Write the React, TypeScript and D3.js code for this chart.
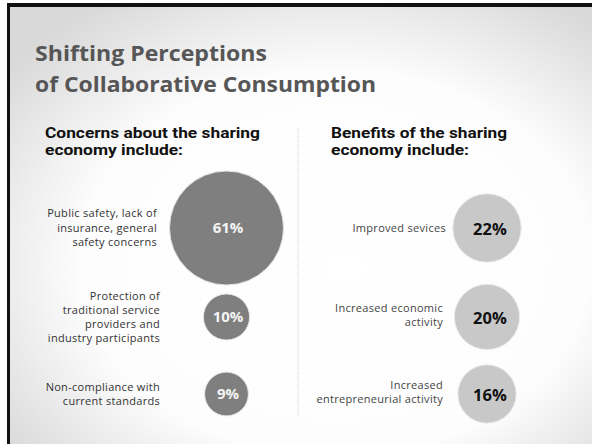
import React from "react";
import * as d3 from "d3";

const titleLines = ["Shifting Perceptions", "of Collaborative Consumption"];
const titleWidths = [232, 341];
const concernHeading = ["Concerns about the sharing", "economy include:"];
const concernHeadingWidths = [215, 138];
const benefitHeading = ["Benefits of the sharing", "economy include:"];
const benefitHeadingWidths = [176, 138];

const concernLabels = [
  ["Public safety, lack of", "insurance, general", "safety concerns"],
  ["Protection of", "traditional service", "providers and", "industry participants"],
  ["Non-compliance with", "current standards"],
];
const concernValues = [61, 10, 9];

const benefitLabels = [
  ["Improved sevices"],
  ["Increased economic", "activity"],
  ["Increased", "entrepreneurial activity"],
];
const benefitValues = [22, 20, 16];

const W = 592;
const H = 444;
const FONT = "'Open Sans', Roboto, sans-serif";
const HFONT = "Roboto, 'Open Sans', sans-serif";

export default function App() {
  const rows = [0, 1, 2];
  const yRow = d3.scaleOrdinal<number, number>().domain(rows).range([228, 317, 394]);
  const r = d3.scaleSqrt().domain([0, 61]).range([0, 57]);
  const colX = d3.scaleOrdinal<string, number>().domain(["concern", "benefit"]).range([226.5, 487]);

  const labelBlock = (lines: string[], xRight: number, cy: number, lh: number, color: string) => {
    const n = lines.length;
    const y0 = cy - ((n - 1) * lh) / 2;
    return lines.map((t, i) => (
      <text
        key={i}
        x={xRight}
        y={y0 + i * lh}
        dy="0.35em"
        textAnchor="end"
        fontSize={11}
        letterSpacing={0.3}
        fill={color}
        fontFamily={FONT}
      >
        {t}
      </text>
    ));
  };

  const heading = (lines: string[], widths: number[], x: number) =>
    lines.map((t, i) => (
      <text
        key={i}
        x={x}
        y={138 + i * 17.2}
        fontSize={14.5}
        fontWeight={700}
        fill="#111"
        fontFamily={HFONT}
        textLength={widths[i]}
        lengthAdjust="spacingAndGlyphs"
      >
        {t}
      </text>
    ));

  return (
    <div style={{ position: "fixed", left: 0, top: 0, width: W, height: H }}>
      <svg width={W} height={H} style={{ display: "block" }}>
        <defs>
          <radialGradient id="bg" cx="0.55" cy="0.58" r="0.7" fx="0.58" fy="0.6">
            <stop offset="0" stopColor="#ffffff" />
            <stop offset="0.62" stopColor="#fdfdfd" />
            <stop offset="1" stopColor="#d9d9d9" />
          </radialGradient>
        </defs>
        <rect x={0} y={0} width={W} height={H} fill="#ffffff" />
        <rect x={8} y={5} width={W - 8} height={H - 5} fill="url(#bg)" />
        {/* frame */}
        <rect x={7} y={3} width={W - 7} height={4} fill="#111" />
        <rect x={7} y={3} width={3} height={H - 3} fill="#111" />

        {/* title */}
        {titleLines.map((t, i) => (
          <text
            key={i}
            x={35}
            y={61 + i * 31}
            fontSize={22}
            fontWeight={700}
            fill="#565656"
            fontFamily={FONT}
            textLength={titleWidths[i]}
            lengthAdjust="spacingAndGlyphs"
          >
            {t}
          </text>
        ))}

        {/* headings */}
        {heading(concernHeading, concernHeadingWidths, 45)}
        {heading(benefitHeading, benefitHeadingWidths, 331)}

        {/* divider */}
        <line x1={298} x2={298} y1={128} y2={416} stroke="#cfcfcf" strokeWidth={1} strokeDasharray="1 1" />

        {/* concerns */}
        {concernValues.map((v, i) => (
          <g key={"c" + i}>
            {labelBlock(concernLabels[i], i === 0 ? 157 : 160, yRow(i), i === 0 ? 14.5 : 13.8, "#333")}
            <circle cx={colX("concern")} cy={yRow(i)} r={r(v)} fill="#7f7f7f" stroke="#e6e6e6" strokeWidth={1} />
            <text
              x={colX("concern") + 1.5}
              y={yRow(i)}
              dy="0.36em"
              textAnchor="middle"
              fontSize={15}
              fontWeight={700}
              fill="#f4f4f4"
              fontFamily={FONT}
            >
              {v}%
            </text>
          </g>
        ))}

        {/* benefits */}
        {benefitValues.map((v, i) => (
          <g key={"b" + i}>
            {labelBlock(benefitLabels[i], i === 0 ? 446 : 443, yRow(i) - (i === 0 ? 0 : 2), 14.5, "#444")}
            <circle cx={colX("benefit")} cy={yRow(i)} r={r(v)} fill="#c8c8c8" stroke="#ececec" strokeWidth={1} />
            <text
              x={473}
              y={yRow(i) + 1}
              dy="0.36em"
              textAnchor="start"
              fontSize={16.5}
              fontWeight={700}
              fill="#111"
              fontFamily={FONT}
            >
              {v}%
            </text>
          </g>
        ))}
      </svg>
    </div>
  );
}
